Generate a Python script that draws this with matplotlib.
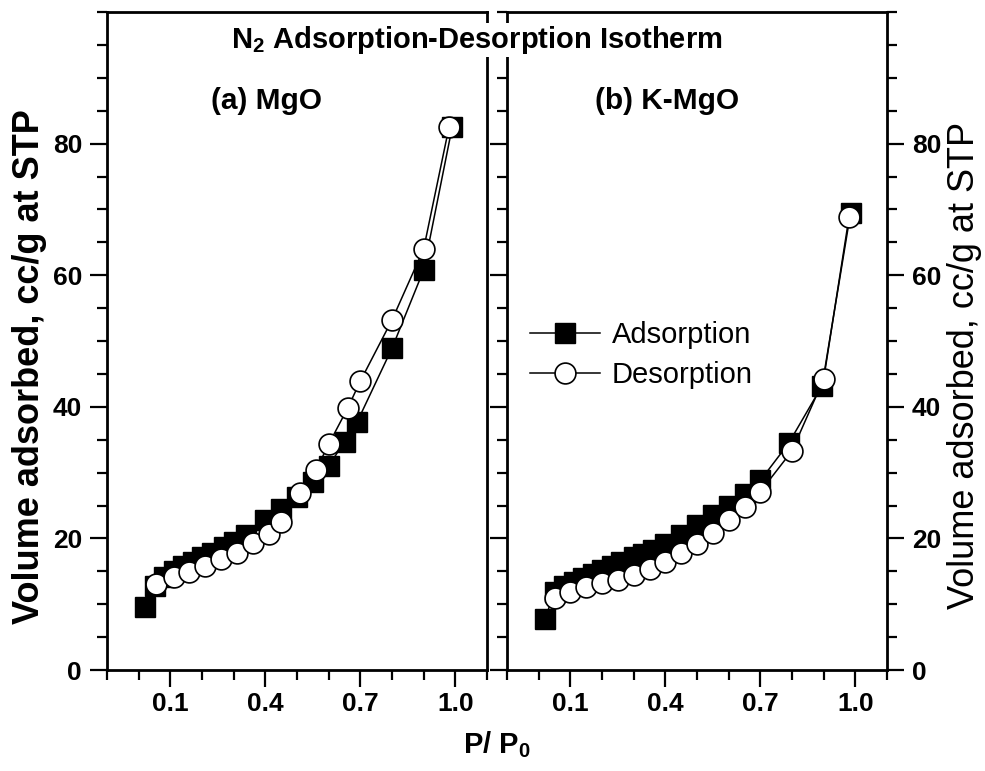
import matplotlib
matplotlib.use("Agg")
import matplotlib.pyplot as plt
from matplotlib.ticker import MultipleLocator, FixedLocator

plt.rcParams['font.family'] = ['Liberation Sans', 'DejaVu Sans']
plt.rcParams['mathtext.default'] = 'regular'

# (a) MgO
mgo_ads_x = [0.02, 0.05, 0.08, 0.11, 0.14, 0.17, 0.20, 0.23, 0.27, 0.30, 0.34,
             0.40, 0.45, 0.50, 0.55, 0.60, 0.65, 0.69, 0.80, 0.90, 0.99]
mgo_ads_y = [9.6, 12.8, 14.2, 15.0, 15.8, 16.4, 17.1, 17.8, 18.7, 19.5, 20.5,
             22.8, 24.5, 26.3, 28.5, 31.0, 34.7, 37.7, 48.9, 60.8, 82.5]
mgo_des_x = [0.055, 0.11, 0.16, 0.21, 0.26, 0.31, 0.36, 0.41, 0.45, 0.51, 0.56,
             0.60, 0.66, 0.70, 0.80, 0.90, 0.98]
mgo_des_y = [13.1, 14.1, 14.9, 15.8, 16.9, 17.8, 19.3, 20.7, 22.5, 26.9, 30.4,
             34.3, 39.8, 43.9, 53.2, 64.0, 82.5]

# (b) K-MgO
kmgo_ads_x = [0.02, 0.05, 0.08, 0.11, 0.14, 0.17, 0.20, 0.23, 0.26, 0.30, 0.33,
              0.36, 0.40, 0.45, 0.50, 0.55, 0.60, 0.65, 0.70, 0.79, 0.895, 0.985]
kmgo_ads_y = [7.8, 11.8, 12.7, 13.4, 14.0, 14.6, 15.2, 15.8, 16.4, 17.1, 17.7,
              18.3, 19.2, 20.5, 22.0, 23.6, 25.0, 26.8, 28.8, 34.5, 43.2, 69.5]
kmgo_des_x = [0.05, 0.10, 0.15, 0.20, 0.25, 0.30, 0.35, 0.40, 0.45, 0.50, 0.55,
              0.60, 0.65, 0.70, 0.80, 0.90, 0.98]
kmgo_des_y = [10.9, 11.9, 12.6, 13.2, 13.7, 14.4, 15.4, 16.4, 17.8, 19.2, 20.8,
              22.8, 24.8, 27.1, 33.3, 44.2, 68.8]

panels = [("(a) MgO", mgo_ads_x, mgo_ads_y, mgo_des_x, mgo_des_y),
          ("(b) K-MgO", kmgo_ads_x, kmgo_ads_y, kmgo_des_x, kmgo_des_y)]

xticks_major = [0.1, 0.4, 0.7, 1.0]
yticks_major = [0, 20, 40, 60, 80]

fig = plt.figure(figsize=(9.85, 7.71), dpi=100)
W, H = 985, 771
ax1 = fig.add_axes([107 / W, (H - 670) / H, 380 / W, 658 / H])
ax2 = fig.add_axes([507 / W, (H - 670) / H, 380 / W, 658 / H])

for ax, (name, ax_x, ax_y, de_x, de_y) in zip([ax1, ax2], panels):
    ax.plot(ax_x, ax_y, '-', color='black', lw=1.1, marker='s', ms=14,
            mfc='black', mec='black', mew=1.0, label='Adsorption', zorder=3)
    ax.plot(de_x, de_y, '-', color='black', lw=1.1, marker='o', ms=15,
            mfc='white', mec='black', mew=1.2, label='Desorption', zorder=4)
    ax.set_xlim(-0.1, 1.1)
    ax.set_ylim(0, 100)
    ax.xaxis.set_major_locator(FixedLocator(xticks_major))
    ax.xaxis.set_minor_locator(MultipleLocator(0.1))
    ax.set_xticklabels(['0.1', '0.4', '0.7', '1.0'], fontweight='bold', fontsize=19)
    ax.yaxis.set_major_locator(FixedLocator(yticks_major))
    ax.yaxis.set_minor_locator(MultipleLocator(5))
    ax.set_yticklabels([str(v) for v in yticks_major], fontweight='bold', fontsize=19)
    ax.tick_params(which='major', direction='out', length=12, width=1.6)
    ax.tick_params(which='minor', direction='out', length=7, width=1.6)
    ax.tick_params(axis='x', which='major', pad=4)
    ax.tick_params(axis='y', which='major', pad=6)
    for sp in ax.spines.values():
        sp.set_linewidth(2.0)
    ax.tick_params(axis='x', which='both', top=False)
    ax.text(0.42, 0.865, name, transform=ax.transAxes, ha='center', va='center',
            fontsize=21.5, fontweight='bold')

# left panel: labels on the left, no ticks on its right spine
ax1.tick_params(axis='y', which='both', left=True, right=False,
                labelleft=True, labelright=False)
# right panel: ticks on both sides, labels on the right
ax2.tick_params(axis='y', which='both', left=True, right=True,
                labelleft=False, labelright=True)

ax2.legend(loc='upper left', bbox_to_anchor=(0.061, 0.530), frameon=False,
           fontsize=21, handlelength=2.4, handletextpad=0.4, labelspacing=0.4,
           borderpad=0, borderaxespad=0)

fig.text(477 / W, 1 - 40 / H, 'N$_2$ Adsorption-Desorption Isotherm', ha='center',
         va='center', fontsize=21, fontweight='bold', zorder=10,
         bbox=dict(facecolor='white', edgecolor='none', pad=1))
fig.text(497 / W, 1 - 745 / H, 'P/ P$_0$', ha='center', va='center',
         fontsize=21, fontweight='bold')
fig.text(30 / W, 1 - 367 / H, 'Volume adsorbed, cc/g at STP', ha='center',
         va='center', rotation=90, fontsize=26, fontweight='bold')
fig.text(965 / W, 1 - 365 / H, 'Volume adsorbed, cc/g at STP', ha='center',
         va='center', rotation=90, fontsize=26)

fig.savefig('out.png', dpi=100)
